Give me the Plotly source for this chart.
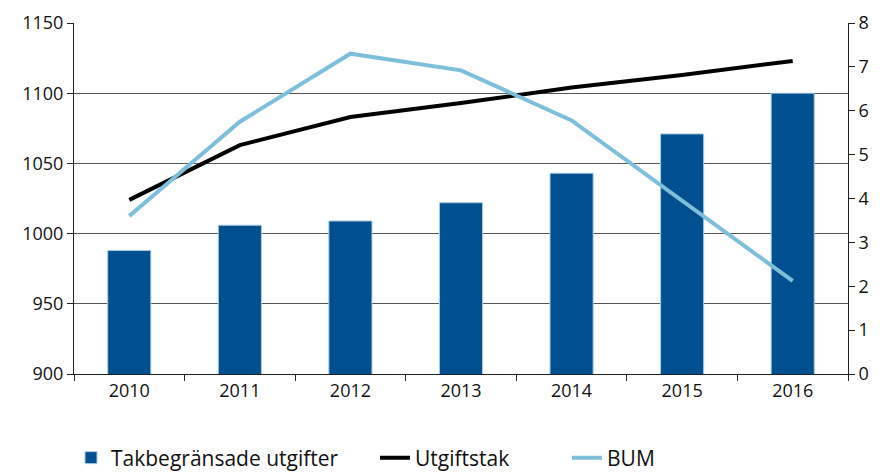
import plotly.graph_objects as go

years = ["2010", "2011", "2012", "2013", "2014", "2015", "2016"]
takbegransade = [988, 1006, 1009, 1022, 1043, 1071, 1100]
utgiftstak = [1024, 1063, 1083, 1093, 1104, 1113, 1123]
bum = [3.6, 5.75, 7.3, 6.92, 5.78, 3.95, 2.12]

left_ticks = [900, 950, 1000, 1050, 1100, 1150]
right_ticks = [0, 1, 2, 3, 4, 5, 6, 7, 8]

font_family = "'Open Sans', Lato, sans-serif"

fig = go.Figure()
fig.add_trace(go.Bar(
    x=years, y=takbegransade, name="Takbegränsade utgifter",
    marker=dict(color="#00508F", line=dict(color="#A9CDE3", width=1)),
    width=0.39, legend="legend",
))
fig.add_trace(go.Scatter(
    x=years, y=utgiftstak, name="Utgiftstak", mode="lines",
    line=dict(color="#000000", width=4), legend="legend2",
))
fig.add_trace(go.Scatter(
    x=years, y=bum, name="BUM", mode="lines", yaxis="y2",
    line=dict(color="#7DBFDA", width=4), legend="legend3",
))

# page has an 8px body margin; figure sized to fit the 880x473 window
OFF = 8
L, R, T, B = 74 - OFF, 32, 23 - OFF, 99
FW, FH = 880 - OFF, 473 - OFF
W = FW - L - R
H = FH - T - B

def px(x_page):
    return (x_page - OFF - L) / W

def py(y_page):
    return (H + T - (y_page - OFF)) / H

leg_common = dict(orientation="h", xanchor="left", y=py(458), yanchor="middle",
                  font=dict(size=21, color="#111111"),
                  bgcolor="rgba(0,0,0,0)", itemwidth=30)

fig.update_layout(
    width=FW, height=FH,
    margin=dict(l=L, r=R, t=T, b=B, autoexpand=False),
    paper_bgcolor="white", plot_bgcolor="white",
    font=dict(family=font_family, size=18, color="#111111"),
    showlegend=True,
    legend=dict(x=px(71), **leg_common),
    legend2=dict(x=px(375), **leg_common),
    legend3=dict(x=px(567), **leg_common),
    xaxis=dict(
        type="category", showline=True, linecolor="#222222", linewidth=1,
        ticks="outside", tickson="boundaries", ticklen=6, tickcolor="#222222",
        showgrid=False, tickfont=dict(size=18), automargin=False,
    ),
    yaxis=dict(
        range=[900, 1150], tickvals=left_ticks, ticks="outside", ticklen=6,
        tickcolor="#222222", showline=True, linecolor="#222222", linewidth=1,
        showgrid=True, gridcolor="#555555", gridwidth=1, zeroline=False,
        tickfont=dict(size=18), automargin=False,
    ),
    yaxis2=dict(
        range=[0, 8], tickvals=right_ticks, overlaying="y", side="right",
        ticks="outside", ticklen=6, tickcolor="#222222", showline=True,
        linecolor="#222222", linewidth=1, showgrid=False, zeroline=False,
        tickfont=dict(size=18), automargin=False,
    ),
    bargap=0.61,
)

fig.write_html("out.html")
